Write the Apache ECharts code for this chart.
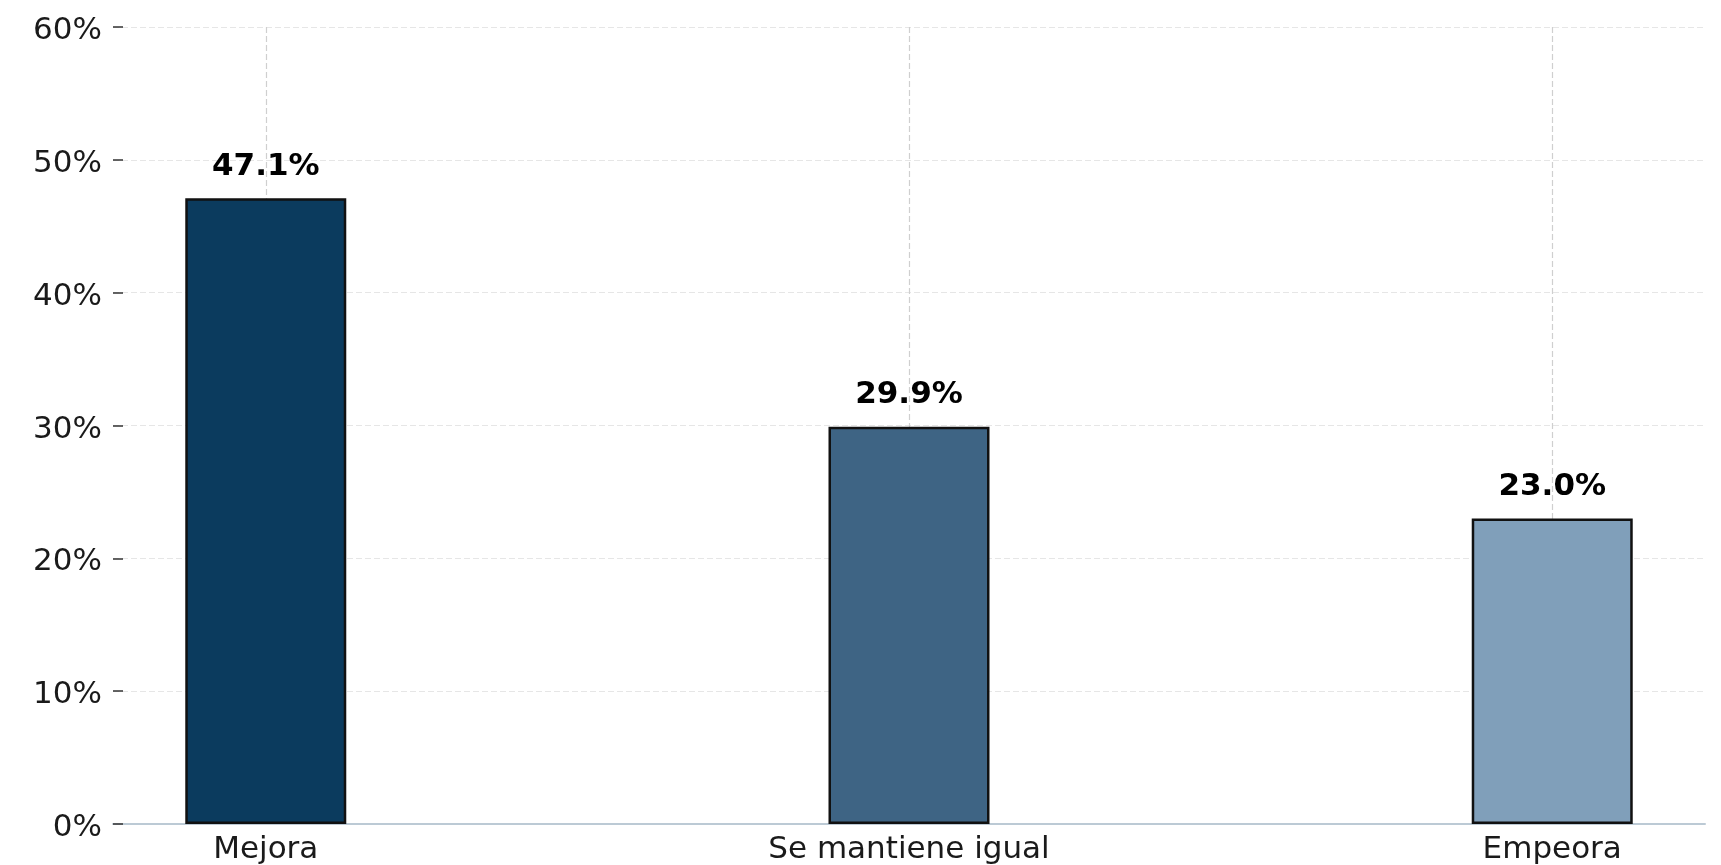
<!DOCTYPE html>
<html>
<head>
<meta charset="utf-8">
<script src="https://cdn.jsdelivr.net/npm/echarts@6/dist/echarts.min.js"></script>
<style>
html,body{margin:0;padding:0;background:#fff;}
#chart{width:1721px;height:865px;}
</style>
</head>
<body>
<div id="chart"></div>
<script>
const categories = ['Mejora', 'Se mantiene igual', 'Empeora'];
const values = [47.1, 29.9, 23.0];
const barColors = ['#0B3B5E', '#3E6484', '#809FBA'];
const yTicks = [0, 10, 20, 30, 40, 50, 60];

const FONT = 'DejaVu Sans';
const chart = echarts.init(document.getElementById('chart'));

const option = {
  backgroundColor: '#ffffff',
  animation: false,
  grid: { left: 113, right: 16, top: 27, bottom: 40.5, containLabel: false },
  xAxis: {
    type: 'value',
    min: -0.2375,
    max: 2.2375,
    axisLine: { show: true, onZero: false, lineStyle: { color: '#bccad5', width: 2 } },
    axisTick: { show: false, customValues: categories.map((c, i) => i) },
    axisLabel: {
      show: true,
      customValues: categories.map((c, i) => i),
      formatter: v => categories[Math.round(v)] || '',
      fontFamily: FONT, fontSize: 31, color: '#1a1a1a', margin: 10
    },
    splitLine: { show: true, lineStyle: { color: '#cfcfcf', type: [6, 3], width: 1.2 } }
  },
  yAxis: {
    type: 'value',
    min: yTicks[0],
    max: yTicks[yTicks.length - 1],
    interval: 10,
    axisLine: { show: false, onZero: false },
    axisTick: { show: true, inside: true, length: 10, lineStyle: { color: '#333', width: 1.5 } },
    axisLabel: {
      formatter: v => '{a|' + v + '%}',
      margin: 11,
      rich: {
        a: { fontFamily: FONT, fontSize: 31, color: '#1a1a1a', padding: [8, 0, 0, 0] }
      }
    },
    splitLine: { show: true, lineStyle: { color: '#e6e6e6', type: [6, 3], width: 1.2 } }
  },
  series: [{
    type: 'bar',
    barWidth: 161,
    data: values.map((v, i) => ({
      value: [i, v],
      itemStyle: { color: barColors[i], borderColor: '#111', borderWidth: 2.5 }
    })),
    label: {
      show: true,
      position: 'top',
      distance: 16,
      formatter: p => p.value[1].toFixed(1) + '%',
      fontFamily: FONT, fontSize: 31, fontWeight: 'bold', color: '#000'
    }
  }]
};
chart.setOption(option);
</script>
</body>
</html>
